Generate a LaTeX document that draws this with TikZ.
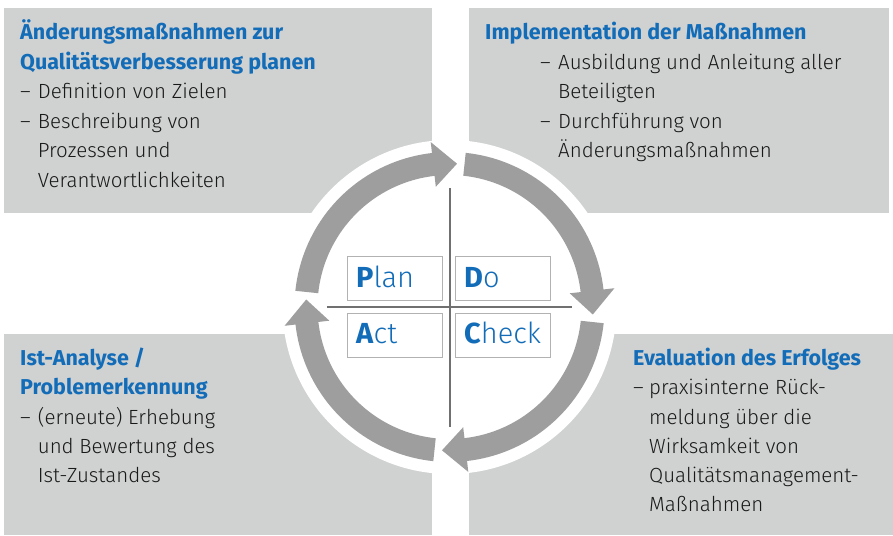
\documentclass[tikz,border=0pt]{standalone}
\usepackage{fontspec}
\setmainfont{Fira Sans Light}[BoldFont={Fira Sans Bold}]
\definecolor{boxgrey}{RGB}{208,209,209}
\definecolor{ringgrey}{RGB}{158,158,158}
\definecolor{linegrey}{RGB}{112,112,112}
\definecolor{framegrey}{RGB}{178,178,178}
\definecolor{pdcablue}{RGB}{18,108,184}
\newcommand\dsh[1]{\makebox[#1][l]{–}}
\newcommand\ringarrow[2]{%
  \pgfmathsetmacro\hb{#2-9.5}%
  \fill[ringgrey] plot[domain=#1:\hb, samples=40] ({449.5+155*cos(\x)},{307+155*sin(\x)})
    -- ({449.5+166*cos(\hb)},{307+166*sin(\hb)})
    -- ({449.5+143.5*cos(#2)},{307+143.5*sin(#2)})
    -- ({449.5+121*cos(\hb)},{307+121*sin(\hb)})
    -- plot[domain=\hb:#1, samples=40] ({449.5+132*cos(\x)},{307+132*sin(\x)})
    -- cycle;}
\begin{document}
\begin{tikzpicture}[x=1pt,y=-1pt,
  bodyline/.style={anchor=base west, inner sep=0pt, font=\fontsize{20.5}{24}\selectfont, text=black!90},
  headline/.style={anchor=base west, inner sep=0pt, font=\fontsize{21.5}{25}\selectfont\bfseries, text=pdcablue},
  pdcaframe/.style={draw=framegrey, line width=1pt, fill=white},
  pdcatext/.style={anchor=base west, inner sep=0pt, font=\fontsize{29}{34}\selectfont, text=pdcablue},
  crossline/.style={draw=linegrey, line width=2pt}]
\useasboundingbox (0,0) rectangle (893,535);
% corner boxes
\fill[boxgrey] (4,8) rectangle (432,213);
\fill[boxgrey] (469,8) rectangle (889,213);
\fill[boxgrey] (4,334) rectangle (432,535);
\fill[boxgrey] (469,334) rectangle (893,535);
% white disc
\fill[white] (449.5,307) circle[radius=167];
% ring arrows
\ringarrow{186}{273}
\ringarrow{276}{363}
\ringarrow{366}{453}
\ringarrow{456}{543}
% cross
\draw[crossline] (449.5,188) -- (449.5,427);
\draw[crossline] (327,307) -- (572,307);
% PDCA frames
\draw[pdcaframe] (347.5,256) rectangle (442.5,300);
\draw[pdcaframe] (455.5,256) rectangle (550.5,300);
\draw[pdcaframe] (347.5,313) rectangle (442.5,357);
\draw[pdcaframe] (455.5,313) rectangle (550.5,357);
\node[pdcatext] (plan) at (356,287.5) {\textbf{P}lan};
\node[pdcatext] (do) at (464,287.5) {\textbf{D}o};
\node[pdcatext] (act) at (356,343.5) {\textbf{A}ct};
\node[pdcatext] (check) at (464,343.5) {\textbf{C}heck};
% top left
\node[headline] (tl1) at (20,39.5) {Änderungsmaßnahmen zur};
\node[headline] (tl2) at (20,69) {Qualitätsverbesserung planen};
\node[bodyline] (tl3) at (20,98.5) {\dsh{17.7pt}Definition von Zielen};
\node[bodyline] (tl4) at (20,128) {\dsh{17.7pt}Beschreibung von};
\node[bodyline] (tl5) at (37.7,157.5) {Prozessen und};
\node[bodyline] (tl6) at (37.7,187) {Verantwortlichkeiten};
% top right
\node[headline] (tr1) at (485,39.5) {Implementation der Maßnahmen};
\node[bodyline] (tr2) at (540,69) {\dsh{18pt}Ausbildung und Anleitung aller};
\node[bodyline] (tr3) at (558,98.5) {Beteiligten};
\node[bodyline] (tr4) at (540,128) {\dsh{18pt}Durchführung von};
\node[bodyline] (tr5) at (558,157.5) {Änderungsmaßnahmen};
% bottom left
\node[headline] (bl1) at (20,365) {Ist-Analyse /};
\node[headline] (bl2) at (20,394.5) {Problemerkennung};
\node[bodyline] (bl3) at (20,424) {\dsh{17.7pt}(erneute) Erhebung};
\node[bodyline] (bl4) at (37.7,453) {und Bewertung des};
\node[bodyline] (bl5) at (37.7,482) {Ist-Zustandes};
% bottom right
\node[headline] (br1) at (633,365.5) {Evaluation des Erfolges};
\node[bodyline] (br2) at (633,394.5) {\dsh{16pt}praxisinterne Rück-};
\node[bodyline] (br3) at (649,424) {meldung über die};
\node[bodyline] (br4) at (649,453) {Wirksamkeit von};
\node[bodyline] (br5) at (649,482.5) {Qualitätsmanagement-};
\node[bodyline] (br6) at (649,511.5) {Maßnahmen};
\end{tikzpicture}
\end{document}
